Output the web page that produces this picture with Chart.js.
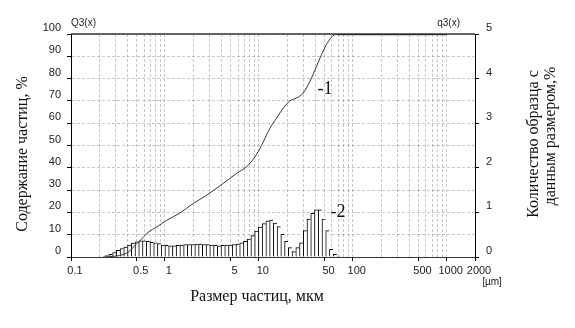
<!DOCTYPE html>
<html>
<head>
<meta charset="utf-8">
<script src="https://cdn.jsdelivr.net/npm/chart.js@4.4.1/dist/chart.umd.min.js"></script>
<style>
  html, body { margin: 0; padding: 0; background: #fff; }
</style>
</head>
<body>
<canvas id="psd-chart" width="575" height="328"></canvas>
<script>
// histogram bins (centre size, um) and q3 density, % (right axis)
var binSizes = [0.220, 0.241, 0.264, 0.290, 0.317, 0.348, 0.381, 0.418, 0.458, 0.502,
  0.550, 0.603, 0.661, 0.724, 0.794, 0.870, 0.954, 1.045, 1.146, 1.256,
  1.376, 1.508, 1.653, 1.812, 1.986, 2.176, 2.385, 2.614, 2.865, 3.140,
  3.441, 3.772, 4.134, 4.531, 4.966, 5.442, 5.965, 6.538, 7.165, 7.853,
  8.607, 9.433, 10.34, 11.33, 12.42, 13.61, 14.92, 16.35, 17.92, 19.64,
  21.53, 23.59, 25.86, 28.34, 31.06, 34.04, 37.31, 40.89, 44.82, 49.12,
  53.83, 59.00, 64.67, 70.87, 77.68];
var q3Values = [0.01, 0.03, 0.06, 0.10, 0.15, 0.19, 0.22, 0.27, 0.31, 0.34,
  0.36, 0.36, 0.35, 0.33, 0.32, 0.30, 0.27, 0.26, 0.25, 0.25,
  0.26, 0.27, 0.28, 0.28, 0.28, 0.29, 0.29, 0.28, 0.28, 0.27,
  0.26, 0.25, 0.26, 0.27, 0.27, 0.28, 0.29, 0.32, 0.35, 0.40,
  0.48, 0.58, 0.67, 0.75, 0.81, 0.83, 0.76, 0.68, 0.51, 0.35,
  0.21, 0.12, 0.21, 0.32, 0.59, 0.85, 0.98, 1.06, 1.06, 0.85,
  0.59, 0.17, 0.06, 0.02, 0.01];

// cumulative Q3 curve, % (left axis)
var curveSizes = [0.22, 0.30, 0.36, 0.42, 0.46, 0.54, 0.66, 0.82, 1.04, 1.44,
  2.0, 2.78, 4.17, 5.79, 7.4, 9.46, 11.1, 13.1, 15.4, 18.2,
  21.4, 25.2, 29.6, 34.9, 41.1, 46.5, 52.5, 59.3, 68.1, 1000];
var Q3Values = [0, 0.4, 1.1, 2.6, 4.4, 7.2, 11.0, 13.5, 16.4, 19.7,
  24.0, 27.7, 33.0, 37.5, 40.5, 46.0, 51.5, 57.7, 62.2, 66.8,
  70.0, 71.3, 73.5, 78.7, 85.5, 90.8, 95.3, 98.6, 100, 100];

var xTickLabels = [0.1, 0.5, 1, 5, 10, 50, 100, 500, 1000, 2000];
var leftTicks = [0, 10, 20, 30, 40, 50, 60, 70, 80, 90, 100];
var rightTicks = [0, 1, 2, 3, 4, 5];

var sansFont = "'Liberation Sans', Arial, sans-serif";
var serifFont = "'Liberation Serif', 'Times New Roman', serif";
var gridColor = 'rgba(0,0,0,0.22)';

var histData = binSizes.map(function (s, i) { return { x: s, y: q3Values[i] }; });
var curveData = curveSizes.map(function (s, i) { return { x: s, y: Q3Values[i] }; });

function isLabelled(v) {
  return xTickLabels.some(function (t) { return Math.abs(t - v) < 1e-9; });
}

var textPlugin = {
  id: 'texts',
  afterDraw: function (chart) {
    var ctx = chart.ctx;
    var a = chart.chartArea;
    ctx.save();
    // top frame line
    ctx.strokeStyle = '#333';
    ctx.lineWidth = 1.5;
    ctx.beginPath();
    ctx.moveTo(a.left, a.top);
    ctx.lineTo(a.right, a.top);
    ctx.stroke();

    ctx.fillStyle = '#222';
    ctx.textBaseline = 'middle';
    ctx.font = '10px ' + sansFont;
    ctx.textAlign = 'left';
    ctx.fillText('Q3(x)', 71, 23);
    ctx.textAlign = 'right';
    ctx.fillText('q3(x)', 460, 23);
    ctx.textAlign = 'center';
    ctx.fillText('[µm]', 492, 282);

    ctx.fillStyle = '#111';
    ctx.font = '16px ' + serifFont;
    ctx.fillText('Размер частиц, мкм', 257, 297);

    ctx.font = '18px ' + serifFont;
    ctx.fillText('-1', 325, 89);
    ctx.fillText('-2', 338, 212);

    ctx.font = '16px ' + serifFont;
    ctx.save();
    ctx.translate(23, 154);
    ctx.rotate(-Math.PI / 2);
    ctx.fillText('Содержание частиц, %', 0, 0);
    ctx.restore();

    ctx.save();
    ctx.translate(534, 144);
    ctx.rotate(-Math.PI / 2);
    ctx.fillText('Количество образца с', 0, 0);
    ctx.restore();

    ctx.save();
    ctx.translate(551, 136);
    ctx.rotate(-Math.PI / 2);
    ctx.fillText('данным размером,%', 0, 0);
    ctx.restore();

    ctx.restore();
  }
};

var ctx = document.getElementById('psd-chart').getContext('2d');
var chart = new Chart(ctx, {
  type: 'bar',
  data: {
    datasets: [{
      type: 'line',
      label: 'Q3(x)',
      data: curveData,
      yAxisID: 'y',
      borderColor: '#333',
      borderWidth: 1,
      pointRadius: 0,
      cubicInterpolationMode: 'monotone',
      segment: {
        borderWidth: function (c) { return c.p0.parsed.y >= 100 && c.p1.parsed.y >= 100 ? 2.5 : 1; }
      },
      order: 0
    }, {
      label: 'q3(x)',
      data: histData,
      yAxisID: 'y1',
      backgroundColor: '#fff',
      borderColor: '#000',
      borderWidth: { left: 1, top: 1, right: 0, bottom: 0 },
      categoryPercentage: 1,
      barPercentage: 1,
      order: 1
    }]
  },
  options: {
    responsive: false,
    animation: false,
    devicePixelRatio: 1,
    layout: { padding: { top: 34, left: 0, right: 0, bottom: 0 } },
    plugins: { legend: { display: false }, tooltip: { enabled: false } },
    scales: {
      x: {
        type: 'logarithmic',
        min: 0.1,
        max: 2000,
        offset: false,
        afterBuildTicks: function (scale) {
          var ticks = [];
          [0.1, 1, 10, 100, 1000].forEach(function (d) {
            for (var k = 1; k <= 9; k++) {
              var v = Number((k * d).toPrecision(3));
              if (v <= 2000) ticks.push({ value: v });
            }
          });
          scale.ticks = ticks;
        },
        afterFit: function (scale) { scale.height = 71; },
        grid: {
          offset: false,
          color: gridColor,
          tickLength: 4,
          tickColor: function (c) { return c.tick && isLabelled(c.tick.value) ? '#000' : 'rgba(0,0,0,0)'; }
        },
        border: { color: '#333', width: 1, dash: [3, 2] },
        ticks: {
          autoSkip: false,
          maxRotation: 0,
          minRotation: 0,
          padding: 3,
          labelOffset: 4,
          color: '#222',
          font: { family: sansFont, size: 11 },
          callback: function (value) { return isLabelled(value) ? String(value) : ''; }
        }
      },
      y: {
        position: 'left',
        min: 0,
        max: 100,
        afterBuildTicks: function (scale) {
          scale.ticks = leftTicks.map(function (v) { return { value: v }; });
        },
        afterFit: function (scale) { scale.width = 71; },
        grid: { color: gridColor, tickLength: 4, tickColor: '#000' },
        border: { color: '#000', width: 1, dash: [3, 2] },
        ticks: {
          padding: 6,
          labelOffset: -6,
          color: '#222',
          font: { family: sansFont, size: 11 }
        }
      },
      y1: {
        position: 'right',
        min: 0,
        max: 5,
        afterBuildTicks: function (scale) {
          scale.ticks = rightTicks.map(function (v) { return { value: v }; });
        },
        afterFit: function (scale) { scale.width = 100; },
        grid: { drawOnChartArea: false, tickLength: 4, tickColor: '#000' },
        border: { color: '#000', width: 1 },
        ticks: {
          padding: 7,
          labelOffset: -6,
          color: '#222',
          font: { family: sansFont, size: 11 }
        }
      }
    }
  },
  plugins: [textPlugin]
});
</script>
</body>
</html>
